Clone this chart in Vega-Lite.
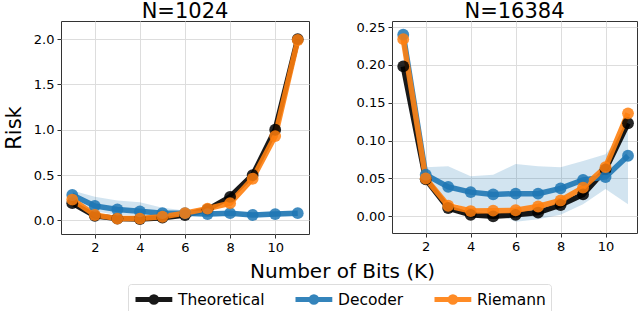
{
  "$schema": "https://vega.github.io/schema/vega-lite/v6.json",
  "padding": {"left": 2, "top": 0, "right": 5, "bottom": 0},
  "background": "white",
  "bounds": "flush",
  "spacing": 83,
  "config": {
    "font": "DejaVu Sans",
    "view": {"stroke": "#333", "strokeWidth": 1},
    "axis": {
      "domain": false,
      "grid": true,
      "gridColor": "#dddddd",
      "gridWidth": 1,
      "tickColor": "#333",
      "tickSize": 4,
      "labelFont": "DejaVu Sans",
      "labelFontSize": 13,
      "labelColor": "#000",
      "labelPadding": 3,
      "titleFont": "DejaVu Sans",
      "titleFontWeight": "normal",
      "titleColor": "#000"
    },
    "title": {"font": "DejaVu Sans", "fontSize": 21, "fontWeight": "normal", "color": "#000", "offset": -1, "baseline": "top"}
  },
  "datasets": {
    "risk": [
      {"panel": "N=1024", "K": 1, "series": "Theoretical", "risk": 0.19},
      {"panel": "N=1024", "K": 2, "series": "Theoretical", "risk": 0.05},
      {"panel": "N=1024", "K": 3, "series": "Theoretical", "risk": 0.02},
      {"panel": "N=1024", "K": 4, "series": "Theoretical", "risk": 0.015},
      {"panel": "N=1024", "K": 5, "series": "Theoretical", "risk": 0.03},
      {"panel": "N=1024", "K": 6, "series": "Theoretical", "risk": 0.06},
      {"panel": "N=1024", "K": 7, "series": "Theoretical", "risk": 0.12},
      {"panel": "N=1024", "K": 8, "series": "Theoretical", "risk": 0.26},
      {"panel": "N=1024", "K": 9, "series": "Theoretical", "risk": 0.5},
      {"panel": "N=1024", "K": 10, "series": "Theoretical", "risk": 1.0},
      {"panel": "N=1024", "K": 11, "series": "Theoretical", "risk": 2.0},
      {"panel": "N=1024", "K": 1, "series": "Decoder", "risk": 0.28, "lo": 0.22, "hi": 0.33},
      {"panel": "N=1024", "K": 2, "series": "Decoder", "risk": 0.16, "lo": 0.1, "hi": 0.26},
      {"panel": "N=1024", "K": 3, "series": "Decoder", "risk": 0.12, "lo": 0.06, "hi": 0.22},
      {"panel": "N=1024", "K": 4, "series": "Decoder", "risk": 0.1, "lo": 0.05, "hi": 0.2},
      {"panel": "N=1024", "K": 5, "series": "Decoder", "risk": 0.08, "lo": 0.05, "hi": 0.14},
      {"panel": "N=1024", "K": 6, "series": "Decoder", "risk": 0.08, "lo": 0.05, "hi": 0.11},
      {"panel": "N=1024", "K": 7, "series": "Decoder", "risk": 0.07, "lo": 0.04, "hi": 0.1},
      {"panel": "N=1024", "K": 8, "series": "Decoder", "risk": 0.08, "lo": 0.05, "hi": 0.1},
      {"panel": "N=1024", "K": 9, "series": "Decoder", "risk": 0.06, "lo": 0.04, "hi": 0.09},
      {"panel": "N=1024", "K": 10, "series": "Decoder", "risk": 0.07, "lo": 0.04, "hi": 0.1},
      {"panel": "N=1024", "K": 11, "series": "Decoder", "risk": 0.08, "lo": 0.05, "hi": 0.11},
      {"panel": "N=1024", "K": 1, "series": "Riemann", "risk": 0.23},
      {"panel": "N=1024", "K": 2, "series": "Riemann", "risk": 0.06},
      {"panel": "N=1024", "K": 3, "series": "Riemann", "risk": 0.02},
      {"panel": "N=1024", "K": 4, "series": "Riemann", "risk": 0.02},
      {"panel": "N=1024", "K": 5, "series": "Riemann", "risk": 0.04},
      {"panel": "N=1024", "K": 6, "series": "Riemann", "risk": 0.08},
      {"panel": "N=1024", "K": 7, "series": "Riemann", "risk": 0.13},
      {"panel": "N=1024", "K": 8, "series": "Riemann", "risk": 0.19},
      {"panel": "N=1024", "K": 9, "series": "Riemann", "risk": 0.46},
      {"panel": "N=1024", "K": 10, "series": "Riemann", "risk": 0.93},
      {"panel": "N=1024", "K": 11, "series": "Riemann", "risk": 1.99},
      {"panel": "N=16384", "K": 1, "series": "Theoretical", "risk": 0.198},
      {"panel": "N=16384", "K": 2, "series": "Theoretical", "risk": 0.049},
      {"panel": "N=16384", "K": 3, "series": "Theoretical", "risk": 0.011},
      {"panel": "N=16384", "K": 4, "series": "Theoretical", "risk": 0.002},
      {"panel": "N=16384", "K": 5, "series": "Theoretical", "risk": 0.0},
      {"panel": "N=16384", "K": 6, "series": "Theoretical", "risk": 0.002},
      {"panel": "N=16384", "K": 7, "series": "Theoretical", "risk": 0.005},
      {"panel": "N=16384", "K": 8, "series": "Theoretical", "risk": 0.015},
      {"panel": "N=16384", "K": 9, "series": "Theoretical", "risk": 0.029},
      {"panel": "N=16384", "K": 10, "series": "Theoretical", "risk": 0.062},
      {"panel": "N=16384", "K": 11, "series": "Theoretical", "risk": 0.123},
      {"panel": "N=16384", "K": 1, "series": "Decoder", "risk": 0.24, "lo": 0.235, "hi": 0.245},
      {"panel": "N=16384", "K": 2, "series": "Decoder", "risk": 0.055, "lo": 0.045, "hi": 0.065},
      {"panel": "N=16384", "K": 3, "series": "Decoder", "risk": 0.039, "lo": 0.02, "hi": 0.066},
      {"panel": "N=16384", "K": 4, "series": "Decoder", "risk": 0.032, "lo": 0.009, "hi": 0.053},
      {"panel": "N=16384", "K": 5, "series": "Decoder", "risk": 0.029, "lo": 0.005, "hi": 0.055},
      {"panel": "N=16384", "K": 6, "series": "Decoder", "risk": 0.03, "lo": -0.007, "hi": 0.069},
      {"panel": "N=16384", "K": 7, "series": "Decoder", "risk": 0.03, "lo": -0.004, "hi": 0.066},
      {"panel": "N=16384", "K": 8, "series": "Decoder", "risk": 0.037, "lo": 0.002, "hi": 0.065},
      {"panel": "N=16384", "K": 9, "series": "Decoder", "risk": 0.048, "lo": 0.016, "hi": 0.073},
      {"panel": "N=16384", "K": 10, "series": "Decoder", "risk": 0.052, "lo": 0.036, "hi": 0.082},
      {"panel": "N=16384", "K": 11, "series": "Decoder", "risk": 0.08, "lo": 0.016, "hi": 0.12},
      {"panel": "N=16384", "K": 1, "series": "Riemann", "risk": 0.234},
      {"panel": "N=16384", "K": 2, "series": "Riemann", "risk": 0.05},
      {"panel": "N=16384", "K": 3, "series": "Riemann", "risk": 0.014},
      {"panel": "N=16384", "K": 4, "series": "Riemann", "risk": 0.007},
      {"panel": "N=16384", "K": 5, "series": "Riemann", "risk": 0.0075},
      {"panel": "N=16384", "K": 6, "series": "Riemann", "risk": 0.008},
      {"panel": "N=16384", "K": 7, "series": "Riemann", "risk": 0.013},
      {"panel": "N=16384", "K": 8, "series": "Riemann", "risk": 0.021},
      {"panel": "N=16384", "K": 9, "series": "Riemann", "risk": 0.038},
      {"panel": "N=16384", "K": 10, "series": "Riemann", "risk": 0.065},
      {"panel": "N=16384", "K": 11, "series": "Riemann", "risk": 0.136}
    ]
  },
  "data": {"name": "risk"},
  "resolve": {"scale": {"color": "shared"}},
  "hconcat": [
    {
      "width": 248,
      "height": 213,
      "title": "N=1024",
      "transform": [{"filter": "datum.panel === 'N=1024'"}],
      "layer": [
        {
          "transform": [{"filter": "datum.series === 'Decoder'"}],
          "mark": {"type": "area", "color": "#1f77b4", "opacity": 0.2},
          "encoding": {
            "x": {"field": "K", "type": "quantitative", "scale": {"domain": [0.5, 11.5], "nice": false}},
            "y": {"field": "lo", "type": "quantitative"},
            "y2": {"field": "hi"}
          }
        },
        {
          "mark": {"type": "line", "strokeWidth": 5.5, "opacity": 0.9},
          "encoding": {
            "x": {"field": "K", "type": "quantitative", "scale": {"domain": [0.5, 11.5], "nice": false},
              "axis": {"values": [2, 4, 6, 8, 10], "title": "Number of Bits (K)", "titleFontSize": 20, "titleX": 281, "titleY": 27, "titleBaseline": "top", "titleAlign": "center"}},
            "y": {"field": "risk", "type": "quantitative", "scale": {"domain": [-0.15, 2.2], "nice": false, "zero": false},
              "axis": {"values": [0, 0.5, 1, 1.5, 2], "format": ".1f", "title": "Risk", "titleFontSize": 21, "titlePadding": 9}},
            "color": {"field": "series", "type": "nominal",
              "scale": {"domain": ["Theoretical", "Decoder", "Riemann"], "range": ["#000000", "#1f77b4", "#ff7f0e"]},
              "legend": {
                "title": null, "orient": "none", "legendX": 67, "legendY": 263, "direction": "horizontal", "columns": 3, "gridAlign": "none",
                "padding": 5, "strokeColor": "#dddddd", "cornerRadius": 3, "fillColor": "white",
                "symbolType": "M-1,0H3.6M1.65,0A0.35,0.35,0,1,1,0.95,0A0.35,0.35,0,1,1,1.65,0Z",
                "symbolSize": 256, "symbolStrokeWidth": 5, "labelOffset": 24, "columnPadding": 20,
                "labelFontSize": 15.5, "labelFont": "DejaVu Sans", "labelColor": "#000",
                "encode": {"symbols": {"update": {"fill": {"scale": "color", "field": "value"}, "stroke": {"scale": "color", "field": "value"}, "opacity": {"value": 0.9}}}}
              }},
            "order": {"field": "K"}
          }
        },
        {
          "mark": {"type": "point", "filled": true, "size": 140, "opacity": 0.85},
          "encoding": {
            "x": {"field": "K", "type": "quantitative"},
            "y": {"field": "risk", "type": "quantitative"},
            "color": {"field": "series", "type": "nominal"}
          }
        }
      ]
    },
    {
      "width": 245,
      "height": 212,
      "title": "N=16384",
      "transform": [{"filter": "datum.panel === 'N=16384'"}],
      "layer": [
        {
          "transform": [{"filter": "datum.series === 'Decoder'"}],
          "mark": {"type": "area", "color": "#1f77b4", "opacity": 0.2},
          "encoding": {
            "x": {"field": "K", "type": "quantitative", "scale": {"domain": [0.5, 11.4], "nice": false}},
            "y": {"field": "lo", "type": "quantitative"},
            "y2": {"field": "hi"}
          }
        },
        {
          "mark": {"type": "line", "strokeWidth": 5.5, "opacity": 0.9},
          "encoding": {
            "x": {"field": "K", "type": "quantitative", "scale": {"domain": [0.5, 11.4], "nice": false},
              "axis": {"values": [2, 4, 6, 8, 10], "title": null}},
            "y": {"field": "risk", "type": "quantitative", "scale": {"domain": [-0.022, 0.258], "nice": false, "zero": false},
              "axis": {"values": [0, 0.05, 0.1, 0.15, 0.2, 0.25], "format": ".2f", "title": null}},
            "color": {"field": "series", "type": "nominal"},
            "order": {"field": "K"}
          }
        },
        {
          "mark": {"type": "point", "filled": true, "size": 140, "opacity": 0.85},
          "encoding": {
            "x": {"field": "K", "type": "quantitative"},
            "y": {"field": "risk", "type": "quantitative"},
            "color": {"field": "series", "type": "nominal"}
          }
        }
      ]
    }
  ]
}
